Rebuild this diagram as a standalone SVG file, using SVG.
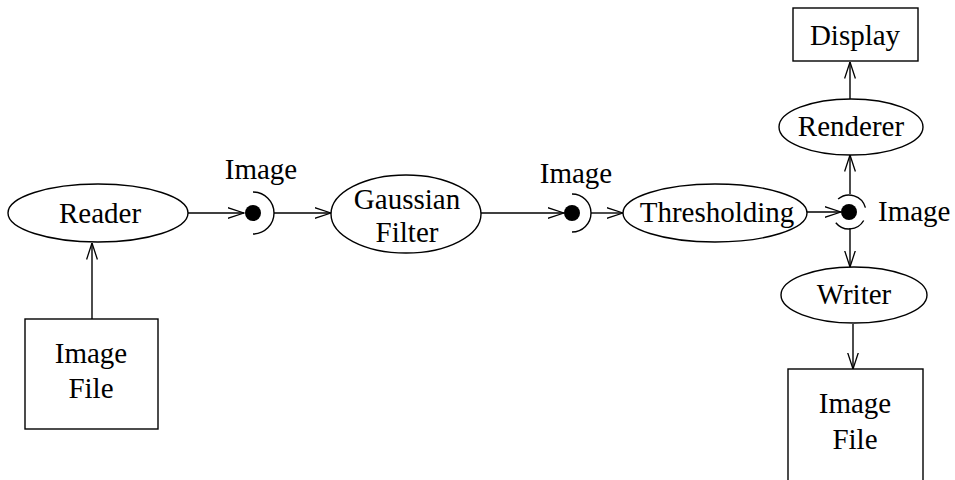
<svg xmlns="http://www.w3.org/2000/svg" width="955" height="480" viewBox="0 0 955 480">
<defs>
<style>
.s{fill:none;stroke:#000;stroke-width:1.4}
.n{fill:#fff;stroke:#000;stroke-width:1.4}
.t{font-family:"Liberation Serif","Times New Roman",serif;font-size:29px;fill:#000;text-anchor:middle}
.c{fill:none;stroke:#000;stroke-width:1.4;marker-end:url(#a)}
</style>
<marker id="a" viewBox="0 0 17 12" refX="16.5" refY="6" markerWidth="17" markerHeight="12" markerUnits="userSpaceOnUse" orient="auto">
<path d="M0,0.6 L16.5,6 L0,11.4" fill="none" stroke="#000" stroke-width="1.3"/>
</marker>
</defs>
<rect width="955" height="480" fill="#fff"/>
<g id="connectors">
<line class="c" x1="92" y1="319" x2="92" y2="243"/>
<line class="c" x1="188" y1="213" x2="244" y2="213"/>
<line class="c" x1="274" y1="213" x2="331" y2="213"/>
<line class="c" x1="481" y1="213" x2="564" y2="213"/>
<line class="c" x1="591" y1="213" x2="623" y2="213"/>
<line class="c" x1="806" y1="212" x2="841" y2="212"/>
<line class="c" x1="850" y1="194" x2="850" y2="155"/>
<line class="c" x1="850" y1="99" x2="850" y2="62"/>
<line class="c" x1="850" y1="228" x2="850" y2="267"/>
<line class="c" x1="853" y1="324" x2="853" y2="369"/>
</g>
<g id="port1">
<circle cx="253" cy="213" r="8" fill="#000"/>
<path class="s" d="M253,192 A21,21 0 0 1 253,234"/>
<text class="t" x="261" y="179">Image</text>
</g>
<g id="port2">
<circle cx="572" cy="213" r="8" fill="#000"/>
<path class="s" d="M572,194 A19,19 0 0 1 572,232"/>
<text class="t" x="576" y="183">Image</text>
</g>
<g id="port3">
<circle cx="849" cy="212" r="8" fill="#000"/>
<path class="s" d="M838.1,199 A17,17 0 0 1 865.4,207.6"/>
<path class="s" d="M835.8,222.7 A17,17 0 0 0 863.7,220.5"/>
<text class="t" x="878" y="221" style="text-anchor:start">Image</text>
</g>
<g id="reader">
<ellipse class="n" cx="98" cy="213" rx="90" ry="29"/>
<text class="t" x="100" y="223">Reader</text>
</g>
<g id="imagefile1">
<rect class="n" x="25" y="319" width="133" height="110"/>
<text class="t" x="91" y="363">Image</text>
<text class="t" x="91" y="398">File</text>
</g>
<g id="gaussian">
<ellipse class="n" cx="406" cy="214" rx="75" ry="39"/>
<text class="t" x="407" y="209">Gaussian</text>
<text class="t" x="407" y="242">Filter</text>
</g>
<g id="thresholding">
<ellipse class="n" cx="715" cy="213" rx="92" ry="29"/>
<text class="t" x="717" y="222">Thresholding</text>
</g>
<g id="renderer">
<ellipse class="n" cx="851" cy="127" rx="72" ry="28"/>
<text class="t" x="851" y="136">Renderer</text>
</g>
<g id="display">
<rect class="n" x="793" y="8" width="125" height="53"/>
<text class="t" x="855" y="45">Display</text>
</g>
<g id="writer">
<ellipse class="n" cx="854" cy="295" rx="73" ry="28"/>
<text class="t" x="854" y="304">Writer</text>
</g>
<g id="imagefile2">
<rect class="n" x="788" y="369" width="135" height="130"/>
<text class="t" x="855" y="413">Image</text>
<text class="t" x="855" y="449">File</text>
</g>
</svg>
